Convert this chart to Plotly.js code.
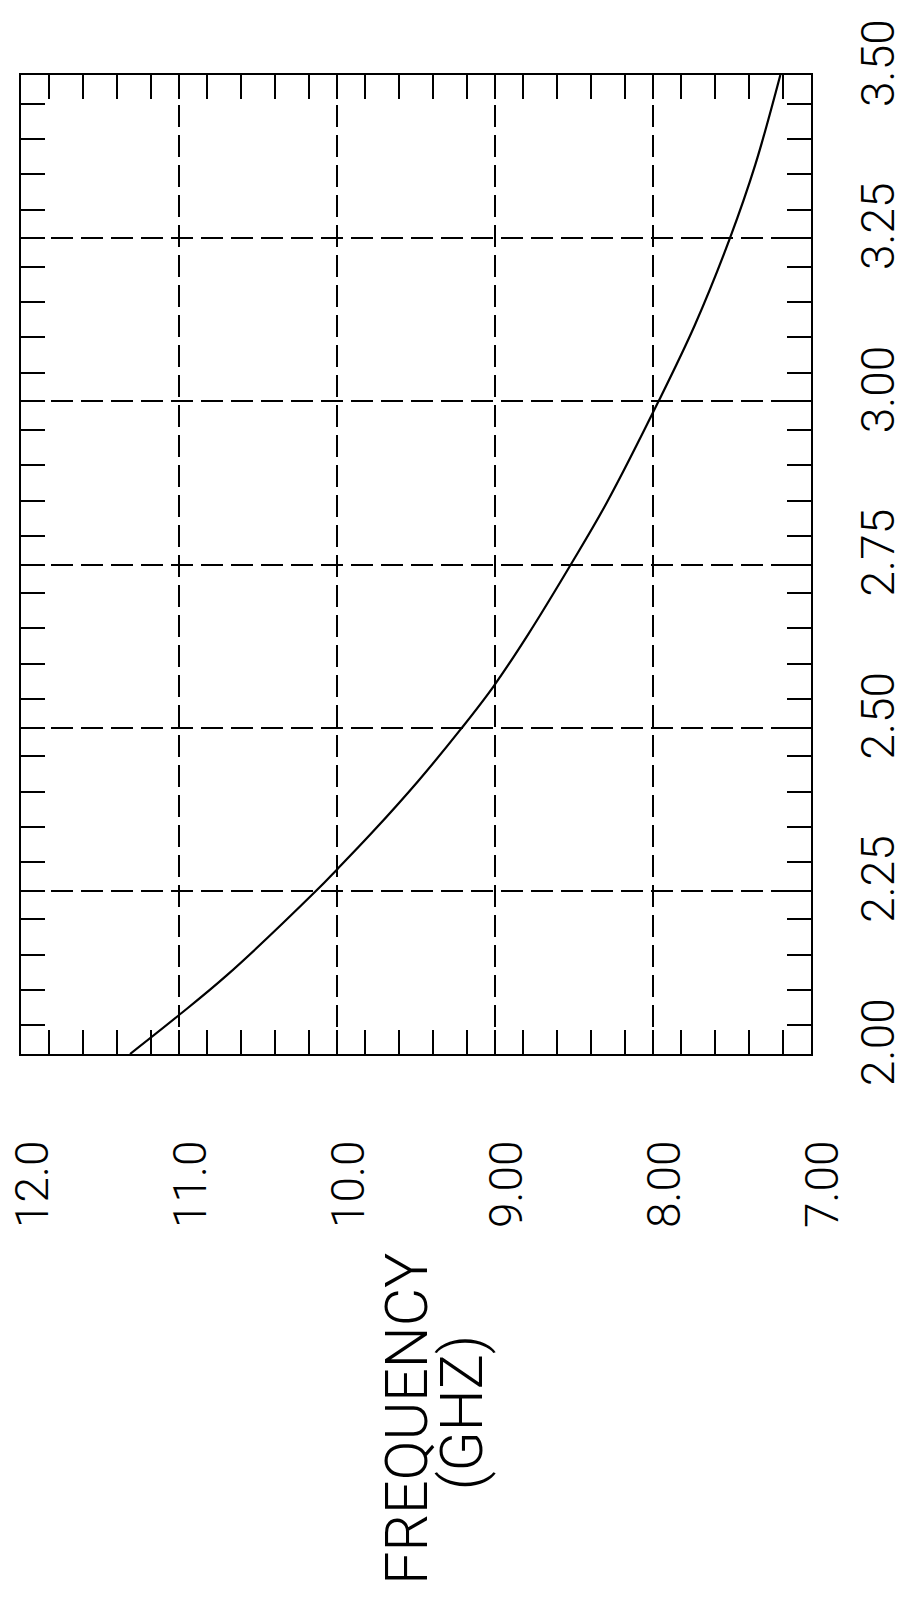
<!DOCTYPE html>
<html><head><meta charset="utf-8">
<script src="https://cdn.plot.ly/plotly-3.0.1.min.js"></script>
<style>html,body{margin:0;padding:0;background:#fff;}#chart{width:908px;height:1606px;}</style>
</head><body><div id="chart"></div>
<script>
// Parameter (plotted along the vertical page direction) and frequency in GHz
const paramValues  = [2.00, 2.0586, 2.12, 2.25, 2.284, 2.34, 2.418, 2.50, 2.563, 2.643, 2.75, 2.845, 3.00, 3.117, 3.25, 3.363, 3.50];
const frequencyGHz = [11.31, 11.005, 10.70, 10.132, 9.995, 9.775, 9.487, 9.209, 9.01, 8.79, 8.52, 8.292, 7.965, 7.735, 7.513, 7.352, 7.194];

const freqTickVals  = [7, 8, 9, 10, 11, 12];
const freqTickText  = ['7.00', '8.00', '9.00', '10.0', '11.0', '12.0'];
const paramTickVals = [2.00, 2.25, 2.50, 2.75, 3.00, 3.25, 3.50];
const paramTickText = ['2.00', '2.25', '2.50', '2.75', '3.00', '3.25', '3.50'];
const minorFractions = [0.175, 0.392, 0.608, 0.825];
const titleLines = ['FREQUENCY', '(GHZ)'];

function minorBetween(majors) {
  const out = [];
  for (let i = 0; i < majors.length - 1; i++) {
    const step = majors[i + 1] - majors[i];
    minorFractions.forEach(f => out.push(majors[i] + f * step));
  }
  return out;
}

const fontFam = 'Roboto, "Liberation Sans", "DejaVu Sans", sans-serif';
const tickFont = {family: fontFam, size: 46, color: '#000', weight: 300};
const titleFont = {family: fontFam, size: 59, color: '#000', weight: 300};

const common = {
  tickmode: 'array',
  tickangle: -90,
  ticks: 'inside', ticklen: 24, tickwidth: 2, tickcolor: '#000',
  showline: true, linewidth: 2, linecolor: '#000', mirror: 'allticks',
  showgrid: true, gridcolor: '#000', gridwidth: 2, griddash: '22px,8px',
  zeroline: false, fixedrange: true,
  tickfont: tickFont
};

const trace = {
  type: 'scatter', mode: 'lines',
  x: frequencyGHz, y: paramValues,
  line: {color: '#000', width: 2.2, shape: 'spline', smoothing: 1},
  hoverinfo: 'skip'
};

const layout = {
  width: 908, height: 1606,
  margin: {l: 21, r: 97, t: 75, b: 552, pad: 0},
  paper_bgcolor: '#fff', plot_bgcolor: '#fff',
  showlegend: false,
  xaxis: Object.assign({}, common, {
    range: [12, 7],
    tickvals: freqTickVals, ticktext: freqTickText,
    ticklabelstandoff: 66, ticklabelshift: -12,
    minor: {tickmode: 'array', tickvals: minorBetween(freqTickVals),
            ticks: 'inside', ticklen: 24, tickwidth: 2, tickcolor: '#000', showgrid: false}
  }),
  yaxis: Object.assign({}, common, {
    range: [2, 3.5], side: 'right',
    tickvals: paramTickVals, ticktext: paramTickText,
    ticklabelstandoff: 26, ticklabelshift: -5,
    minor: {tickmode: 'array', tickvals: minorBetween(paramTickVals),
            ticks: 'inside', ticklen: 24, tickwidth: 2, tickcolor: '#000', showgrid: false}
  }),
  annotations: [
    {text: titleLines[0], xref: 'paper', yref: 'paper', x: 0.488, y: -0.373,
     xanchor: 'center', yanchor: 'middle', textangle: -90, showarrow: false, font: titleFont},
    {text: titleLines[1], xref: 'paper', yref: 'paper', x: 0.557, y: -0.366,
     xanchor: 'center', yanchor: 'middle', textangle: -90, showarrow: false, font: titleFont}
  ]
};

Plotly.newPlot('chart', [trace], layout, {displayModeBar: false, staticPlot: true});
</script>
</body></html>
